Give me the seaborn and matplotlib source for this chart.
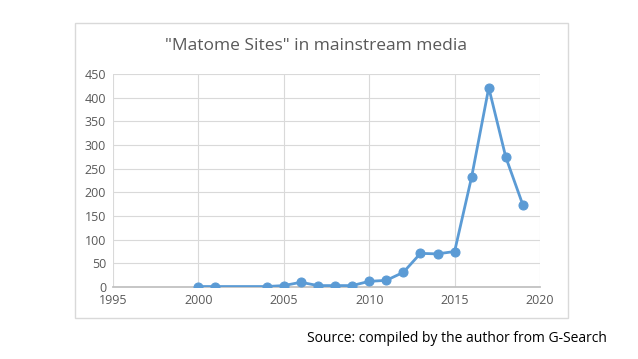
import matplotlib
matplotlib.use("Agg")
import matplotlib.pyplot as plt
import seaborn as sns
import pandas as pd
from matplotlib.patches import Rectangle

# values
years = [2000, 2001, 2004, 2005, 2006, 2007, 2008, 2009, 2010, 2011,
         2012, 2013, 2014, 2015, 2016, 2017, 2018, 2019]
counts = [1, 1, 1, 3, 10, 3, 3, 3, 12, 14,
          31, 71, 70, 75, 233, 421, 274, 173]
x_ticks = [1995, 2000, 2005, 2010, 2015, 2020]
y_ticks = [0, 50, 100, 150, 200, 250, 300, 350, 400, 450]

df = pd.DataFrame({"year": years, "count": counts})

sns.set_theme(style="white")
plt.rcParams["font.family"] = ["Open Sans", "DejaVu Sans"]

fig = plt.figure(figsize=(6.38, 3.59), dpi=100)
ax = fig.add_axes([113 / 638, 1 - 287 / 359, 427 / 638, 213 / 359])

blue = "#5B9BD5"
grey = "#595959"

sns.lineplot(data=df, x="year", y="count", ax=ax, color=blue, linewidth=2,
             marker="o", markersize=6.5, markeredgecolor=blue)

ax.set_xlim(1995, 2020)
ax.set_ylim(0, 450)
ax.set_xticks(x_ticks)
ax.set_yticks(y_ticks)
ax.tick_params(axis="both", labelsize=9, colors=grey, length=0, pad=5)
ax.grid(True, color="#D9D9D9", linewidth=0.8)
ax.set_xlabel("")
ax.set_ylabel("")
for side in ["top", "right", "left"]:
    ax.spines[side].set_visible(False)
ax.spines["bottom"].set_color("#BFBFBF")
ax.spines["bottom"].set_zorder(1)

# chart frame and texts
fig.patches.append(Rectangle((75 / 638, 1 - 318 / 359), 493 / 638, 295 / 359,
                             transform=fig.transFigure, fill=False,
                             edgecolor="#D9D9D9", linewidth=1))
fig.text(316 / 638, 1 - 46 / 359, '"Matome Sites" in mainstream media',
         ha="center", va="center", fontsize=12.5, color=grey)
fig.text(607 / 638, 1 - 339 / 359, "Source: compiled by the author from G-Search",
         ha="right", va="center", fontsize=10, color="black")

fig.savefig("out.png", dpi=100)
